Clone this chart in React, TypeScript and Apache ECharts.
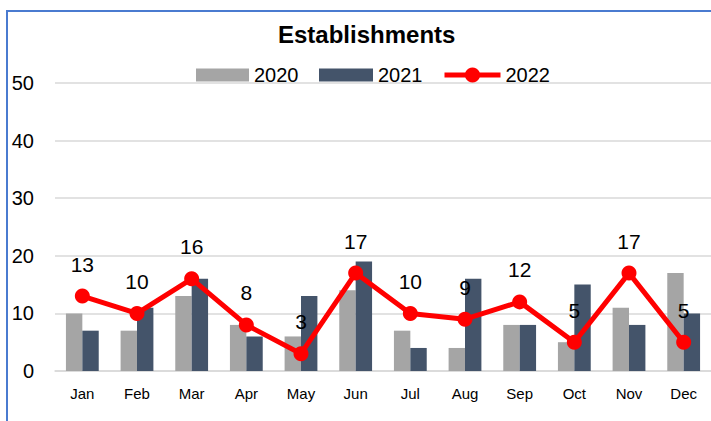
import React, { useEffect, useRef } from "react";
import * as echarts from "echarts";

const months = ["Jan", "Feb", "Mar", "Apr", "May", "Jun", "Jul", "Aug", "Sep", "Oct", "Nov", "Dec"];
const values2020 = [10, 7, 13, 8, 6, 14, 7, 4, 8, 5, 11, 17];
const values2021 = [7, 11, 16, 6, 13, 19, 4, 16, 8, 15, 8, 10];
const values2022 = [13, 10, 16, 8, 3, 17, 10, 9, 12, 5, 17, 5];
const yTicks = { min: 0, max: 50, interval: 10 };

const FONT = "'Liberation Sans', Arial, sans-serif";

const legendText = { fontFamily: FONT, fontSize: 20, color: "#000" };

export default function App() {
  const ref = useRef<HTMLDivElement>(null);
  useEffect(() => {
    if (!ref.current) return;
    const chart = echarts.init(ref.current, undefined, { renderer: "svg" });
    chart.setOption({
      animation: false,
      backgroundColor: "#ffffff",
      textStyle: { fontFamily: FONT },
      title: {
        text: "Establishments",
        left: 273,
        top: 17,
        textStyle: { fontFamily: FONT, fontSize: 24, fontWeight: "bold", color: "#000" },
      },
      legend: [
        {
          top: 60,
          left: 191,
          itemWidth: 53,
          itemHeight: 13,
          textStyle: legendText,
          data: [{ name: "2020", icon: "rect" }],
        },
        {
          top: 60,
          left: 314,
          itemWidth: 54,
          itemHeight: 13,
          textStyle: legendText,
          data: [{ name: "2021", icon: "rect" }],
        },
        {
          top: 60,
          left: 437,
          itemWidth: 56,
          itemHeight: 19,
          textStyle: legendText,
          data: [{ name: "2022", lineStyle: { width: 5, color: "#ff0000" } }],
        },
      ],
      graphic: [
        {
          type: "rect",
          shape: { x: 7, y: 11, width: 720, height: 420 },
          style: { fill: "none", stroke: "#4a7bd0", lineWidth: 2 },
          silent: true,
          z: 100,
        },
      ],
      grid: { left: 55, right: -4, top: 83, bottom: 50 },
      xAxis: {
        type: "category",
        data: months,
        axisLine: { show: true, lineStyle: { color: "#d9d9d9", width: 1.5 } },
        axisTick: { show: false },
        axisLabel: { fontFamily: FONT, fontSize: 15, color: "#000", margin: 15 },
      },
      yAxis: {
        type: "value",
        min: yTicks.min,
        max: yTicks.max,
        interval: yTicks.interval,
        axisLine: { show: false },
        axisTick: { show: false },
        splitLine: { lineStyle: { color: "#d9d9d9", width: 1.5 } },
        axisLabel: { fontFamily: FONT, fontSize: 20, color: "#000", margin: 21 },
      },
      series: [
        {
          name: "2020",
          type: "bar",
          data: values2020,
          barGap: "0%",
          barCategoryGap: "40%",
          itemStyle: { color: "#a5a5a5" },
        },
        {
          name: "2021",
          type: "bar",
          data: values2021,
          barGap: "0%",
          barCategoryGap: "40%",
          itemStyle: { color: "#44546a" },
        },
        {
          name: "2022",
          type: "line",
          data: values2022,
          symbol: "circle",
          symbolSize: 15,
          lineStyle: { color: "#ff0000", width: 5 },
          itemStyle: { color: "#ff0000" },
          label: {
            show: true,
            position: "top",
            distance: 14,
            fontFamily: FONT,
            fontSize: 21,
            color: "#000",
          },
          z: 5,
        },
      ],
    });
    return () => chart.dispose();
  }, []);
  return (
    <div
      ref={ref}
      style={{ position: "fixed", left: 0, top: 0, width: 711, height: 421 }}
    />
  );
}
